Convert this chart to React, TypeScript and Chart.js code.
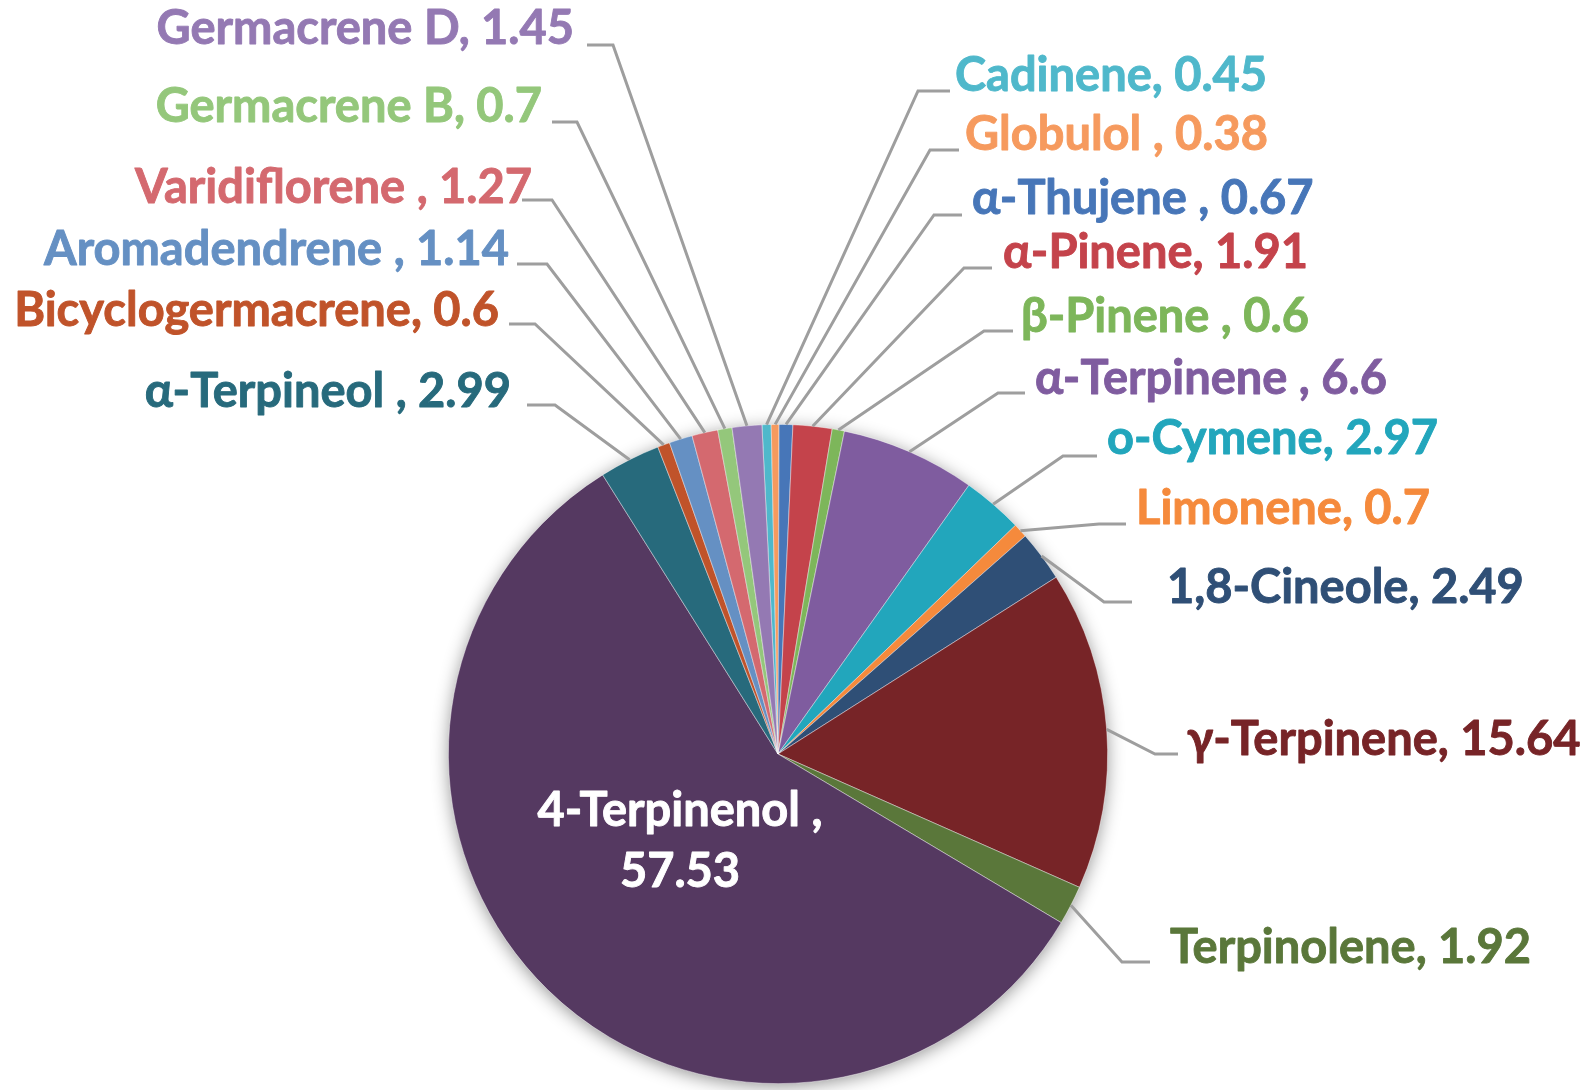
import React, { useEffect, useRef } from 'react';
import { Chart, registerables } from 'chart.js';

Chart.register(...registerables);

// ---- data ----
const compounds = [
  'Cadinene', 'Globulol ', 'α-Thujene ', 'α-Pinene', 'β-Pinene ', 'α-Terpinene ',
  'o-Cymene', 'Limonene', '1,8-Cineole', 'γ-Terpinene', 'Terpinolene', '4-Terpinenol ',
  'α-Terpineol ', 'Bicyclogermacrene', 'Aromadendrene ', 'Varidiflorene ', 'Germacrene B', 'Germacrene D',
];
const percentages = [
  0.45, 0.38, 0.67, 1.91, 0.6, 6.6,
  2.97, 0.7, 2.49, 15.64, 1.92, 57.53,
  2.99, 0.6, 1.14, 1.27, 0.7, 1.45,
];
const sliceColors = [
  '#4FB8CB', '#F69A5E', '#4776B8', '#C4434B', '#7DB65A', '#7F5C9F',
  '#22A6BC', '#F58A3C', '#2F4F76', '#772427', '#5A773A', '#553961',
  '#276A7C', '#C0532A', '#6590C3', '#D4696F', '#94C77B', '#9479B3',
];
const textColors = [
  '#4FB8CB', '#F69A5E', '#4776B8', '#C4434B', '#7DB65A', '#7F5C9F',
  '#22A6BC', '#F58A3C', '#2F4F76', '#772427', '#5A773A', '#FFFFFF',
  '#276A7C', '#C0532A', '#6590C3', '#D4696F', '#94C77B', '#9479B3',
];

// ---- label layout (pixels): side, text x (edge), text centre y, leader y, leader end x, elbow x ----
type Lay = { side: 'L' | 'R' | 'C'; tx: number; cy: number; ly: number; ex: number; bx: number };
const labelLayout: Lay[] = [
  { side: 'R', tx: 955, cy: 75, ly: 91, ex: 950, bx: 918 },
  { side: 'R', tx: 965, cy: 134, ly: 150, ex: 959, bx: 930 },
  { side: 'R', tx: 972, cy: 198, ly: 215, ex: 962, bx: 934 },
  { side: 'R', tx: 1003, cy: 252, ly: 268, ex: 992, bx: 964 },
  { side: 'R', tx: 1021, cy: 316, ly: 331, ex: 1013, bx: 984 },
  { side: 'R', tx: 1035, cy: 378, ly: 393, ex: 1025, bx: 998 },
  { side: 'R', tx: 1107, cy: 438, ly: 456, ex: 1097, bx: 1063 },
  { side: 'R', tx: 1136, cy: 508, ly: 524, ex: 1126, bx: 1099 },
  { side: 'R', tx: 1167, cy: 587, ly: 602, ex: 1132, bx: 1104 },
  { side: 'R', tx: 1187, cy: 739, ly: 754, ex: 1178, bx: 1155 },
  { side: 'R', tx: 1170, cy: 947, ly: 962, ex: 1150, bx: 1122 },
  { side: 'C', tx: 680, cy: 810, ly: 871, ex: 0, bx: 0 },
  { side: 'L', tx: 511, cy: 391, ly: 405, ex: 527, bx: 555 },
  { side: 'L', tx: 499, cy: 310, ly: 324, ex: 509, bx: 535 },
  { side: 'L', tx: 509, cy: 249, ly: 264, ex: 517, bx: 547 },
  { side: 'L', tx: 532, cy: 187, ly: 200, ex: 522, bx: 552 },
  { side: 'L', tx: 542, cy: 106, ly: 122, ex: 552, bx: 577 },
  { side: 'L', tx: 574, cy: 28, ly: 45, ex: 587, bx: 613 },
];

const FONT = 'bold 47px Lato';

const shadowPlugin = {
  id: 'pieShadow',
  beforeDatasetsDraw(chart: any) {
    const arc = chart.getDatasetMeta(0).data[0];
    if (!arc) return;
    const { x, y, outerRadius } = arc.getProps(['x', 'y', 'outerRadius'], true);
    const ctx = chart.ctx;
    ctx.save();
    ctx.shadowColor = 'rgba(0,0,0,0.45)';
    ctx.shadowBlur = 18;
    ctx.shadowOffsetY = 3;
    ctx.fillStyle = '#553961';
    ctx.beginPath();
    ctx.arc(x, y, outerRadius - 1, 0, Math.PI * 2);
    ctx.fill();
    ctx.restore();
  },
};

const labelPlugin = {
  id: 'pieLabels',
  afterDatasetsDraw(chart: any) {
    const ctx = chart.ctx;
    const meta = chart.getDatasetMeta(0);
    meta.data.forEach((arc: any, i: number) => {
      const p = arc.getProps(['x', 'y', 'startAngle', 'endAngle', 'outerRadius'], true);
      const lay = labelLayout[i];
      const text = compounds[i] + ', ' + String(percentages[i]);
      ctx.save();
      ctx.font = FONT;
      ctx.fillStyle = textColors[i];
      ctx.strokeStyle = textColors[i];
      ctx.lineWidth = 0.9;
      ctx.lineJoin = 'round';
      if (lay.side === 'C') {
        ctx.textAlign = 'center';
        ctx.textBaseline = 'alphabetic';
        const l1 = compounds[i] + ',';
        const l2 = String(percentages[i]);
        ctx.fillText(l1, lay.tx, lay.cy + 16);
        ctx.strokeText(l1, lay.tx, lay.cy + 16);
        ctx.fillText(l2, lay.tx, lay.ly + 16);
        ctx.strokeText(l2, lay.tx, lay.ly + 16);
        ctx.restore();
        return;
      }
      const mid = (p.startAngle + p.endAngle) / 2;
      const sx = p.x + Math.cos(mid) * p.outerRadius;
      const sy = p.y + Math.sin(mid) * p.outerRadius;
      ctx.textAlign = lay.side === 'L' ? 'right' : 'left';
      ctx.textBaseline = 'alphabetic';
      ctx.fillText(text, lay.tx, lay.cy + 16);
      ctx.strokeText(text, lay.tx, lay.cy + 16);
      ctx.strokeStyle = '#9E9E9E';
      ctx.lineWidth = 3;
      ctx.lineJoin = 'miter';
      ctx.beginPath();
      ctx.moveTo(sx, sy);
      ctx.lineTo(lay.bx, lay.ly);
      ctx.lineTo(lay.ex, lay.ly);
      ctx.stroke();
      ctx.restore();
    });
  },
};

export default function App() {
  const ref = useRef<HTMLCanvasElement | null>(null);
  useEffect(() => {
    document.body.style.margin = '0';
    let chart: Chart | null = null;
    let cancelled = false;
    const make = () => {
      if (cancelled || !ref.current) return;
      chart = new Chart(ref.current, {
        type: 'pie',
        data: {
          labels: compounds,
          datasets: [
            {
              data: percentages,
              backgroundColor: sliceColors,
              borderColor: 'rgba(255,255,255,0.6)',
              borderWidth: 0.75,
            },
          ],
        },
        options: {
          responsive: false,
          animation: false,
          devicePixelRatio: 1,
          rotation: -2.8,
          layout: { padding: { left: 448, right: 480, top: 424, bottom: 6 } },
          plugins: {
            legend: { display: false },
            tooltip: { enabled: false },
          },
        },
        plugins: [shadowPlugin, labelPlugin],
      });
    };
    const fonts: any = (document as any).fonts;
    if (fonts && fonts.load) {
      fonts.load(FONT).then(make, make);
    } else {
      make();
    }
    return () => {
      cancelled = true;
      if (chart) chart.destroy();
    };
  }, []);
  return (
    <div style={{ position: 'fixed', left: 0, top: 0, width: 1588, height: 1090, background: '#fff' }}>
      <canvas ref={ref} width={1588} height={1090} style={{ width: 1588, height: 1090, display: 'block' }} />
    </div>
  );
}
